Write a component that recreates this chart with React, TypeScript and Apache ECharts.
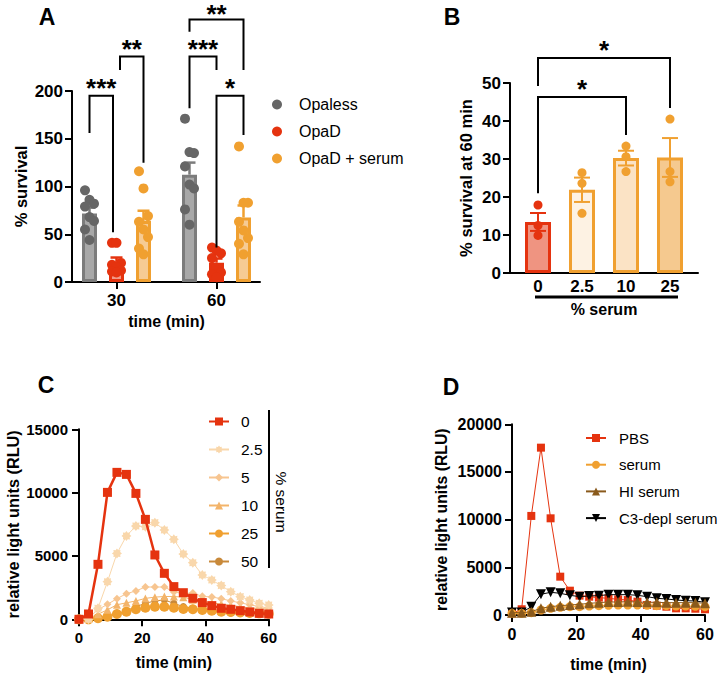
import React, { useEffect, useRef } from 'react';
import * as echarts from 'echarts';

const FONT = '"Liberation Sans", Arial, Helvetica, sans-serif';

// ---------- Panel A: % survival (individual replicates) ----------
const aTimeLabels = ['30', '60'];
const aGroupNames = ['Opaless', 'OpaD', 'OpaD + serum'];
const aOpaless30 = [96, 86, 82, 79, 68, 64, 55, 44];
const aOpaless60 = [171, 136, 135, 121, 102, 98, 76, 60];
const aOpaD30 = [41, 41, 20, 18, 16, 12, 11, 10];
const aOpaD60 = [36, 33, 30, 25, 15, 10, 8, 5];
const aSerum30 = [116, 98, 69, 63, 55, 47, 35, 29];
const aSerum60 = [142, 83, 83, 63, 54, 46, 40, 29];
// significance: [time index, from group, to group, bracket top, left leg end, right leg end]
const aSigBrackets = [
  [0, 0, 1, 195, 156, 52],
  [0, 1, 2, 236, 222, 125],
  [1, 0, 1, 236, 182, 222],
  [1, 0, 2, 275, 262, 222],
  [1, 1, 2, 195, 36, 154],
];
const aSigLabels = ['***', '**', '***', '**', '*'];

// ---------- Panel B: % survival at 60 min ----------
const bSerumLabels = ['0', '2.5', '10', '25'];
const bSurv0 = [17.9, 12.5, 9.9];
const bSurv2p5 = [26.4, 23.6, 15.7];
const bSurv10 = [33.4, 30.6, 26.7];
const bSurv25 = [40.5, 26.7, 24.0];
// [from category, to category, bracket top, left leg end, right leg end]
const bSigBrackets = [
  [0, 2, 46.3, 21, 36.3],
  [0, 3, 56.6, 49.2, 43.4],
];
const bSigLabels = ['*', '*'];

// ---------- Panel C: RLU vs time, % serum ----------
const cTime = [0, 3, 6, 9, 12, 15, 18, 21, 24, 27, 30, 33, 36, 39, 42, 45, 48, 51, 54, 57, 60];
const cLabels = ['0', '2.5', '5', '10', '25', '50'];
const cS0 = [0, 420, 4340, 10020, 11600, 11440, 9940, 7890, 5080, 3630, 2580, 2100, 1660, 1320, 1080, 870, 790, 680, 580, 470, 420];
const cS2p5 = [0, 0, 870, 2970, 5200, 6580, 7360, 7310, 7630, 7050, 6310, 5150, 4470, 3500, 3100, 2660, 2180, 1790, 1530, 1260, 1130];
const cS5 = [0, 100, 760, 1180, 1630, 2020, 2240, 2550, 2550, 2550, 2160, 2030, 2080, 1810, 1760, 1630, 1450, 1300, 1150, 1000, 900];
const cS10 = [0, 50, 400, 750, 1150, 1300, 1450, 1650, 1750, 1800, 1800, 1750, 1550, 1400, 1300, 1200, 1100, 1000, 900, 850, 800];
const cS25 = [0, 0, 80, 210, 420, 600, 790, 920, 1000, 1000, 920, 815, 790, 740, 680, 600, 580, 540, 500, 470, 440];
const cS50 = [0, 0, 130, 260, 420, 680, 1000, 1260, 1450, 1530, 1260, 1000, 870, 740, 680, 530, 500, 470, 440, 420, 400];

// ---------- Panel D: RLU vs time, treatments ----------
const dTime = [0, 3, 6, 9, 12, 15, 18, 21, 24, 27, 30, 33, 36, 39, 42, 45, 48, 51, 54, 57, 60];
const dNames = ['PBS', 'serum', 'HI serum', 'C3-depl serum'];
const dPBS = [175, 600, 10390, 17550, 10140, 4020, 2550, 2030, 1920, 1820, 1750, 1640, 1570, 1400, 1050, 980, 870, 700, 700, 660, 600];
const dSerum = [175, 175, 245, 525, 700, 800, 875, 875, 945, 980, 1015, 1050, 1050, 1050, 1015, 980, 980, 945, 945, 910, 875];
const dHI = [245, 245, 350, 700, 875, 980, 1050, 1120, 1225, 1295, 1365, 1365, 1400, 1365, 1330, 1330, 1295, 1295, 1295, 1295, 1225];
const dC3 = [250, 250, 875, 2170, 2380, 2275, 2065, 1925, 2000, 2030, 2135, 2135, 2135, 2065, 1925, 1750, 1680, 1575, 1500, 1470, 1330];

// ---------- styles ----------
const RED = '#e5330f';
const ORANGE = '#f0a030';
const aDotColors = ['#666666', RED, ORANGE];
const aFillColors = ['#a8a8a8', '#f19a87', '#f6cb94'];
const aBorderColors = ['#7c7c7c', RED, ORANGE];
const bFillColors = ['#ef9481', '#fdf2e3', '#fbe3c5', '#f5c98f'];
const bBorderColors = [RED, ORANGE, ORANGE, ORANGE];
const cColors = [RED, '#f9d7ab', '#f7c590', '#f3b46a', ORANGE, '#c8893a'];
const dColors = [RED, ORANGE, '#8a5a1c', '#000000'];

const starPath = (() => {
  let d = '';
  for (let k = 0; k < 16; k++) {
    const a = (k * Math.PI) / 8 - Math.PI / 2;
    const r = k % 2 === 0 ? 1 : 0.7;
    d += (k === 0 ? 'M' : 'L') + (r * Math.cos(a)).toFixed(3) + ' ' + (r * Math.sin(a)).toFixed(3) + ' ';
  }
  return 'path://' + d + 'Z';
})();
const cSymbols = ['rect', starPath, 'diamond', 'triangle', 'circle', 'circle'];
const cSymbolSizes = [9, 10, 8, 8, 10, 7];
const cLineWidths = [2.5, 1, 1, 1, 1.5, 1];

const mean = (a: number[]) => a.reduce((s, v) => s + v, 0) / a.length;
const sem = (a: number[]) => {
  const m = mean(a);
  const v = a.reduce((s, x) => s + (x - m) * (x - m), 0) / (a.length - 1);
  return Math.sqrt(v / a.length);
};

const lineStyle = { color: '#000', width: 2 };
const plain = (v: number) => String(v);
const lbl = (fontSize: number, margin: number) => ({
  color: '#000', fontSize, fontWeight: 'bold', fontFamily: FONT, margin, formatter: plain,
});
const nts = (fontSize: number) => ({ color: '#000', fontSize, fontWeight: 'bold', fontFamily: FONT });
const tick = { show: true, length: 7, lineStyle };

function errorBarSeries(xAxisIndex: number, yAxisIndex: number, items: any[], colors: string[], capHalf: number, lw: number, both: boolean) {
  return {
    type: 'custom',
    xAxisIndex,
    yAxisIndex,
    clip: false,
    silent: true,
    z: 3,
    data: items.map((it) => [it.x, it.m, it.s]),
    renderItem: (params: any, api: any) => {
      const x = api.value(0);
      const m = api.value(1);
      const s = api.value(2);
      const color = colors[params.dataIndex];
      const pTop = api.coord([x, m + s]);
      const pEnd = api.coord([x, both ? m - s : m]);
      const st = { stroke: color, lineWidth: lw };
      const children: any[] = [
        { type: 'line', shape: { x1: pTop[0], y1: pTop[1], x2: pEnd[0], y2: pEnd[1] }, style: st },
        { type: 'line', shape: { x1: pTop[0] - capHalf, y1: pTop[1], x2: pTop[0] + capHalf, y2: pTop[1] }, style: st },
      ];
      if (both) {
        children.push({ type: 'line', shape: { x1: pEnd[0] - capHalf, y1: pEnd[1], x2: pEnd[0] + capHalf, y2: pEnd[1] }, style: st });
      }
      return { type: 'group', children };
    },
  };
}

function bracketSeries(xAxisIndex: number, yAxisIndex: number, items: any[]) {
  return {
    type: 'custom',
    xAxisIndex,
    yAxisIndex,
    clip: false,
    silent: true,
    z: 6,
    data: items.map((b) => [b.x1, b.top]),
    renderItem: (params: any, api: any) => {
      const b = items[params.dataIndex];
      const tl = api.coord([b.x1, b.top]);
      const tr = api.coord([b.x2, b.top]);
      const bl = api.coord([b.x1, b.l]);
      const br = api.coord([b.x2, b.r]);
      return {
        type: 'group',
        children: [
          {
            type: 'polyline',
            shape: { points: [bl, tl, tr, br] },
            style: { stroke: '#000', lineWidth: 2, fill: null },
          },
          {
            type: 'text',
            x: (tl[0] + tr[0]) / 2,
            y: Math.max(tl[1] - 8, 14),
            style: {
              text: b.label,
              fontSize: 26,
              lineHeight: 18,
              fontWeight: 'bold',
              fontFamily: FONT,
              fill: '#000',
              align: 'center',
              verticalAlign: 'middle',
            },
          },
        ],
      };
    },
  };
}

export default function App() {
  const ref = useRef<HTMLDivElement>(null);
  useEffect(() => {
    if (!ref.current) return;
    const chart = echarts.init(ref.current, null, { renderer: 'svg' });

    // ---- A ----
    const aDots = [
      [aOpaless30, aOpaless60],
      [aOpaD30, aOpaD60],
      [aSerum30, aSerum60],
    ];
    const aOffset = 0.27;
    const aBarX = (t: number, g: number) => t + 0.5 + (g - 1) * aOffset;
    const aBars = aGroupNames.map((name, g) => ({
      type: 'bar',
      name: name + ' mean',
      xAxisIndex: 1,
      yAxisIndex: 1,
      barWidth: 15,
      barGap: '80%',
      z: 2,
      silent: true,
      itemStyle: { color: aFillColors[g], borderColor: aBorderColors[g], borderWidth: 3 },
      data: aTimeLabels.map((_, t) => mean(aDots[g][t])),
    }));
    const aScatter = aGroupNames.map((name, g) => ({
      type: 'scatter',
      name,
      xAxisIndex: 2,
      yAxisIndex: 1,
      symbolSize: 10,
      z: 4,
      silent: true,
      itemStyle: { color: aDotColors[g], opacity: 1 },
      data: aTimeLabels.flatMap((_, t) =>
        aDots[g][t].map((v, j) => [aBarX(t, g) + ((j % 3) - 1) * 0.045, v])
      ),
    }));
    const aErrItems: any[] = [];
    const aErrColors: string[] = [];
    aGroupNames.forEach((_, g) =>
      aTimeLabels.forEach((__, t) => {
        aErrItems.push({ x: aBarX(t, g), m: mean(aDots[g][t]), s: sem(aDots[g][t]) });
        aErrColors.push(aBorderColors[g]);
      })
    );
    const aNudge = [[0, -0.035], [0.035, 0], [0, 0], [0, 0], [0, 0]];
    const aBrItems = aSigBrackets.map((b, i) => ({
      x1: aBarX(b[0], b[1]) + aNudge[i][0],
      x2: aBarX(b[0], b[2]) + aNudge[i][1],
      top: b[3],
      l: b[4],
      r: b[5],
      label: aSigLabels[i],
    }));

    // ---- B ----
    const bDots = [bSurv0, bSurv2p5, bSurv10, bSurv25];
    const bBar = {
      type: 'bar',
      name: 'B mean',
      xAxisIndex: 4,
      yAxisIndex: 3,
      barWidth: 26,
      z: 2,
      silent: true,
      data: bDots.map((d, i) => ({
        value: mean(d),
        itemStyle: { color: bFillColors[i], borderColor: bBorderColors[i], borderWidth: 3 },
      })),
    };
    const bScatter = {
      type: 'scatter',
      name: 'B points',
      xAxisIndex: 4,
      yAxisIndex: 3,
      symbolSize: 9,
      z: 4,
      silent: true,
      itemStyle: { color: (p: any) => bBorderColors[p.data[0]], opacity: 1 },
      data: bDots.flatMap((d, i) => d.map((v) => [i, v])),
    };
    const bErrItems = bDots.map((d, i) => ({ x: i, m: mean(d), s: sem(d) }));
    const bBrItems = bSigBrackets.map((b, i) => ({ x1: b[0], x2: b[1], top: b[2], l: b[3], r: b[4], label: bSigLabels[i] }));

    // ---- C ----
    const cSeriesData = [cS0, cS2p5, cS5, cS10, cS25, cS50];
    const cSeries = cLabels
      .map((name, k) => ({
        type: 'line',
        name,
        xAxisIndex: 5,
        yAxisIndex: 4,
        clip: false,
        silent: true,
        symbol: cSymbols[k],
        symbolSize: cSymbolSizes[k],
        showAllSymbol: true,
        itemStyle: { color: cColors[k], opacity: 1 },
        lineStyle: { color: cColors[k], width: cLineWidths[k] },
        z: 10 - k,
        data: cTime.map((t, i) => [t, cSeriesData[k][i]]),
      }))
      .reverse();

    // ---- D ----
    const dSeriesData = [dPBS, dSerum, dHI, dC3];
    const dSymbols = ['rect', 'circle', 'triangle', 'triangle'];
    const dRot = [0, 0, 0, 180];
    const dSizes = [8, 9, 10, 10];
    const dZ = [2, 4, 5, 3];
    const dSeries = dNames.map((name, k) => ({
      type: 'line',
      name,
      xAxisIndex: 6,
      yAxisIndex: 5,
      clip: false,
      silent: true,
      symbol: dSymbols[k],
      symbolRotate: dRot[k],
      symbolSize: dSizes[k],
      showAllSymbol: true,
      itemStyle: { color: dColors[k], opacity: 1 },
      lineStyle: { color: dColors[k], width: 1 },
      z: dZ[k],
      data: dTime.map((t, i) => [t, dSeriesData[k][i]]),
    }));

    const grids = [
      { left: 72, top: 91, width: 188, height: 191 },
      { left: 66.5, top: 91, width: 200, height: 191 },
      { left: 510, top: 83, width: 188, height: 190 },
      { left: 516, top: 83, width: 176, height: 190 },
      { left: 79, top: 429.3, width: 189.7, height: 190 },
      { left: 512, top: 424.3, width: 193, height: 190.7 },
    ].map((g) => ({ ...g, containLabel: false, outerBoundsMode: 'none' }));

    const option: any = {
      animation: false,
      backgroundColor: '#ffffff',
      textStyle: { fontFamily: FONT },
      grid: grids,
      xAxis: [
        { gridIndex: 0, type: 'value', min: 0, max: 1, axisLine: { show: true, onZero: false, lineStyle }, axisTick: { show: false }, axisLabel: { show: false }, splitLine: { show: false } },
        {
          gridIndex: 1, type: 'category', data: aTimeLabels,
          axisLine: { show: false }, axisTick: { show: true, alignWithLabel: true, length: 7, lineStyle },
          axisLabel: { ...lbl(17, 10), formatter: undefined }, splitLine: { show: false },
          name: 'time (min)', nameLocation: 'middle', nameGap: 31, nameTextStyle: nts(16),
        },
        { gridIndex: 1, type: 'value', min: 0, max: 2, show: false },
        { gridIndex: 2, type: 'value', min: 0, max: 1, axisLine: { show: true, onZero: false, lineStyle }, axisTick: { show: false }, axisLabel: { show: false }, splitLine: { show: false } },
        {
          gridIndex: 3, type: 'category', data: bSerumLabels,
          axisLine: { show: false }, axisTick: { show: false },
          axisLabel: { ...lbl(17, 5), formatter: undefined }, splitLine: { show: false },
          name: '% serum', nameLocation: 'middle', nameGap: 28, nameTextStyle: nts(16),
        },
        {
          gridIndex: 4, type: 'value', min: 0, max: 60, interval: 20,
          axisLine: { show: true, onZero: false, lineStyle }, axisTick: tick, axisLabel: lbl(15, 11), splitLine: { show: false },
          name: 'time (min)', nameLocation: 'middle', nameGap: 35, nameTextStyle: nts(16),
        },
        {
          gridIndex: 5, type: 'value', min: 0, max: 60, interval: 20,
          axisLine: { show: true, onZero: false, lineStyle }, axisTick: tick, axisLabel: lbl(16, 11), splitLine: { show: false },
          name: 'time (min)', nameLocation: 'middle', nameGap: 41, nameTextStyle: nts(16),
        },
      ],
      yAxis: [
        {
          gridIndex: 0, type: 'value', min: 0, max: 200, interval: 50,
          axisLine: { show: true, onZero: false, lineStyle }, axisTick: tick, axisLabel: lbl(17, 9), splitLine: { show: false },
          name: '% survival', nameLocation: 'middle', nameGap: 43, nameTextStyle: nts(16.5),
        },
        { gridIndex: 1, type: 'value', min: 0, max: 200, show: false },
        {
          gridIndex: 2, type: 'value', min: 0, max: 50, interval: 10,
          axisLine: { show: true, onZero: false, lineStyle }, axisTick: tick, axisLabel: lbl(17, 9), splitLine: { show: false },
          name: '% survival at 60 min', nameLocation: 'middle', nameGap: 36, nameTextStyle: nts(16.5),
        },
        { gridIndex: 3, type: 'value', min: 0, max: 50, show: false },
        {
          gridIndex: 4, type: 'value', min: 0, max: 15000, interval: 5000,
          axisLine: { show: true, onZero: false, lineStyle }, axisTick: tick, axisLabel: lbl(15, 11), splitLine: { show: false },
          name: 'relative light units (RLU)', nameLocation: 'middle', nameGap: 58, nameTextStyle: nts(16.3),
        },
        {
          gridIndex: 5, type: 'value', min: 0, max: 20000, interval: 5000,
          axisLine: { show: true, onZero: false, lineStyle }, axisTick: tick, axisLabel: lbl(16, 10), splitLine: { show: false },
          name: 'relative light units (RLU)', nameLocation: 'middle', nameGap: 63, nameTextStyle: nts(15.8),
        },
      ],
      legend: [
        {
          left: 272, top: 96.5, orient: 'vertical', padding: 0, itemWidth: 34, itemHeight: 10, itemGap: 11,
          icon: 'circle', selectedMode: false, data: aGroupNames,
          textStyle: { fontSize: 16, color: '#000', fontFamily: FONT },
        },
        {
          left: 208, top: 413.5, orient: 'vertical', padding: 0, itemWidth: 20, itemHeight: 10, itemGap: 12,
          selectedMode: false, data: cLabels,
          textStyle: { fontSize: 15.5, color: '#000', fontFamily: FONT, padding: [0, 0, 0, 7] },
        },
        {
          left: 585, top: 430.5, orient: 'vertical', padding: 0, itemWidth: 20, itemHeight: 10, itemGap: 11.7,
          selectedMode: false, data: dNames,
          textStyle: { fontSize: 15, color: '#000', fontFamily: FONT, padding: [0, 0, 0, 8] },
        },
      ],
      graphic: [
        { type: 'text', x: 47, y: 17, style: { text: 'A', fontSize: 23, fontWeight: 'bold', fontFamily: FONT, fill: '#000', align: 'center', verticalAlign: 'middle' } },
        { type: 'text', x: 452, y: 17, style: { text: 'B', fontSize: 23, fontWeight: 'bold', fontFamily: FONT, fill: '#000', align: 'center', verticalAlign: 'middle' } },
        { type: 'text', x: 46, y: 385, style: { text: 'C', fontSize: 23, fontWeight: 'bold', fontFamily: FONT, fill: '#000', align: 'center', verticalAlign: 'middle' } },
        { type: 'text', x: 451, y: 387, style: { text: 'D', fontSize: 23, fontWeight: 'bold', fontFamily: FONT, fill: '#000', align: 'center', verticalAlign: 'middle' } },
        { type: 'line', shape: { x1: 269, y1: 410, x2: 269, y2: 568 }, style: { stroke: '#000', lineWidth: 2 } },
        { type: 'text', x: 281, y: 502, rotation: -Math.PI / 2, style: { text: '% serum', fontSize: 15.5, fontFamily: FONT, fill: '#000', align: 'center', verticalAlign: 'middle' } },
        { type: 'line', shape: { x1: 535, y1: 297, x2: 678, y2: 297 }, style: { stroke: '#000', lineWidth: 3 } },
      ],
      series: [
        ...aBars,
        errorBarSeries(2, 1, aErrItems, aErrColors, 6, 2.5, false),
        ...aScatter,
        bracketSeries(2, 1, aBrItems),
        bBar,
        errorBarSeries(4, 3, bErrItems, bBorderColors, 8, 2, true),
        bScatter,
        bracketSeries(4, 3, bBrItems),
        ...cSeries,
        ...dSeries,
      ],
    };
    chart.setOption(option);
    return () => chart.dispose();
  }, []);
  return (
    <div
      ref={ref}
      style={{ position: 'absolute', left: 0, top: 0, width: 720, height: 676, background: '#fff' }}
    />
  );
}
